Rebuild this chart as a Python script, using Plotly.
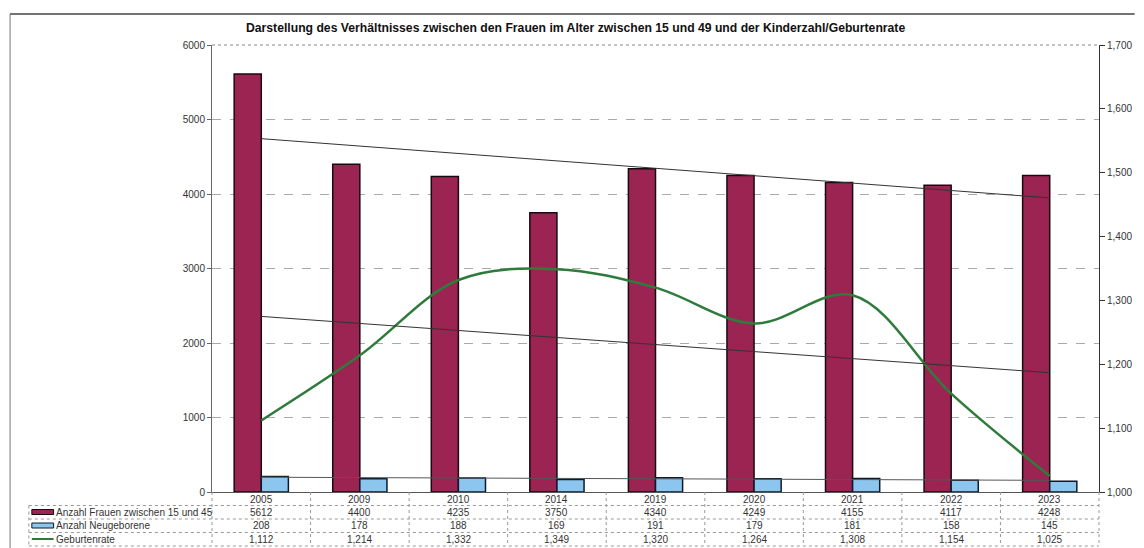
import numpy as np
import plotly.graph_objects as go

years = ["2005", "2009", "2010", "2014", "2019", "2020", "2021", "2022", "2023"]
frauen = [5612, 4400, 4235, 3750, 4340, 4249, 4155, 4117, 4248]
neugeborene = [208, 178, 188, 169, 191, 179, 181, 158, 145]
geburtenrate = [1.112, 1.214, 1.332, 1.349, 1.320, 1.264, 1.308, 1.154, 1.025]
rate_labels = ["1,112", "1,214", "1,332", "1,349", "1,320", "1,264", "1,308", "1,154", "1,025"]
row_names = ["Anzahl Frauen zwischen 15 und 45", "Anzahl Neugeborene", "Geburtenrate"]
title = "Darstellung des Verhältnisses zwischen den Frauen im Alter zwischen 15 und 49 und der Kinderzahl/Geburtenrate"
y1_ticks = [0, 1000, 2000, 3000, 4000, 5000, 6000]
y2_ticks = [1.0, 1.1, 1.2, 1.3, 1.4, 1.5, 1.6, 1.7]
y2_ticktext = ["1,000", "1,100", "1,200", "1,300", "1,400", "1,500", "1,600", "1,700"]

MAROON = "#9b2452"
BLUE = "#8cc6ef"
GREEN = "#2e7b3c"
FONT = "Liberation Sans, Arial, sans-serif"

idx = np.arange(len(years))
def trend(vals):
    k, b = np.polyfit(idx, vals, 1)
    return list(k * idx + b)

fig = go.Figure()
fig.add_trace(go.Bar(x=years, y=frauen, name=row_names[0], marker=dict(color=MAROON, line=dict(color="#1a0a10", width=1.5))))
fig.add_trace(go.Bar(x=years, y=neugeborene, name=row_names[1], marker=dict(color=BLUE, line=dict(color="#0d1a2a", width=1.5))))
fig.add_trace(go.Scatter(x=years, y=trend(frauen), mode="lines", line=dict(color="#333333", width=1), yaxis="y"))
fig.add_trace(go.Scatter(x=years, y=trend(neugeborene), mode="lines", line=dict(color="#555555", width=1), yaxis="y"))
fig.add_trace(go.Scatter(x=years, y=geburtenrate, mode="lines", line=dict(color=GREEN, width=2.5, shape="spline", smoothing=1.0), yaxis="y2"))
fig.add_trace(go.Scatter(x=years, y=trend(geburtenrate), mode="lines", line=dict(color="#333333", width=1), yaxis="y2"))

W, H = 1144, 548
L, R, T, B = 212, 1108, 45, 492
pw, ph = R - L, B - T
def px(x): return (x - L) / pw
def py(y): return (B - y) / ph

shapes = []
annotations = []
# outer frame
shapes.append(dict(type="line", xref="paper", yref="paper", x0=px(8), x1=px(1144), y0=py(14), y1=py(14), line=dict(color="#444", width=1.5)))
shapes.append(dict(type="line", xref="paper", yref="paper", x0=px(8), x1=px(8), y0=py(14), y1=py(548), line=dict(color="#777", width=1)))
# top border of plot
shapes.append(dict(type="line", xref="paper", yref="paper", x0=0, x1=1, y0=1, y1=1, line=dict(color="#888", width=1, dash="dot")))

# table
row_y = [499, 512, 525.5, 539]
line_y = [505.5, 519, 532.5, 546]
for ly in line_y:
    shapes.append(dict(type="line", xref="paper", yref="paper", x0=px(27), x1=1, y0=py(ly), y1=py(ly), line=dict(color="#999", width=1, dash="dot")))
for k in range(len(years) + 1):
    shapes.append(dict(type="line", xref="paper", yref="paper", x0=k / 9, x1=k / 9, y0=0, y1=py(546), line=dict(color="#999", width=1, dash="dot")))
shapes.append(dict(type="line", xref="paper", yref="paper", x0=px(27), x1=px(27), y0=py(505.5), y1=py(546), line=dict(color="#999", width=1, dash="dot")))

for i, yr in enumerate(years):
    cx = (i + 0.5) / 9
    for r, txt in enumerate([yr, str(frauen[i]), str(neugeborene[i]), rate_labels[i]]):
        annotations.append(dict(x=cx, y=py(row_y[r]), xref="paper", yref="paper", text=txt, showarrow=False,
                                font=dict(size=10, color="#333", family=FONT), xanchor="center", yanchor="middle"))
# legend keys
shapes.append(dict(type="rect", xref="paper", yref="paper", x0=px(30), x1=px(52), y0=py(514.5), y1=py(509.5), fillcolor=MAROON, line=dict(color="#1a0a10", width=1)))
shapes.append(dict(type="rect", xref="paper", yref="paper", x0=px(30), x1=px(52), y0=py(528), y1=py(523), fillcolor=BLUE, line=dict(color="#0d1a2a", width=1)))
shapes.append(dict(type="line", xref="paper", yref="paper", x0=px(30), x1=px(52), y0=py(539), y1=py(539), line=dict(color=GREEN, width=2)))
for r, name in enumerate(row_names):
    annotations.append(dict(x=px(52), y=py(row_y[r + 1]), xref="paper", yref="paper", text=name, showarrow=False,
                            font=dict(size=10, color="#333", family=FONT), xanchor="left", yanchor="middle"))

annotations.append(dict(x=px(579), y=py(28), xref="paper", yref="paper", text="<b>" + title + "</b>", showarrow=False,
                        font=dict(size=12.2, color="#111", family=FONT), xanchor="center", yanchor="middle"))

fig.update_layout(
    width=W, height=H,
    margin=dict(l=L, r=W - R, t=T, b=H - B, pad=0),
    paper_bgcolor="white", plot_bgcolor="white",
    barmode="group", bargap=0.45, bargroupgap=0,
    showlegend=False,
    font=dict(family=FONT, size=10, color="#333"),
    xaxis=dict(type="category", showticklabels=False, showgrid=False, zeroline=False,
               showline=True, linecolor="#555", linewidth=1, ticks=""),
    yaxis=dict(range=[0, 6000], tickvals=y1_ticks, ticktext=[str(v) for v in y1_ticks],
               showgrid=True, gridcolor="#aaa", griddash="dash", gridwidth=1, zeroline=False,
               showline=True, linecolor="#666", linewidth=1, ticks="outside", ticklen=4, tickcolor="#666",
               tickfont=dict(size=10, color="#333")),
    yaxis2=dict(range=[1.0, 1.7], overlaying="y", side="right", tickvals=y2_ticks, ticktext=y2_ticktext,
                showgrid=False, zeroline=False, showline=True, linecolor="#333", linewidth=1,
                ticks="outside", ticklen=5, tickcolor="#333", tickfont=dict(size=10, color="#333")),
    shapes=shapes, annotations=annotations,
)

fig.write_html("out.html", config={"displayModeBar": False},
               post_script="document.body.style.margin='0';document.body.style.overflow='hidden';")
